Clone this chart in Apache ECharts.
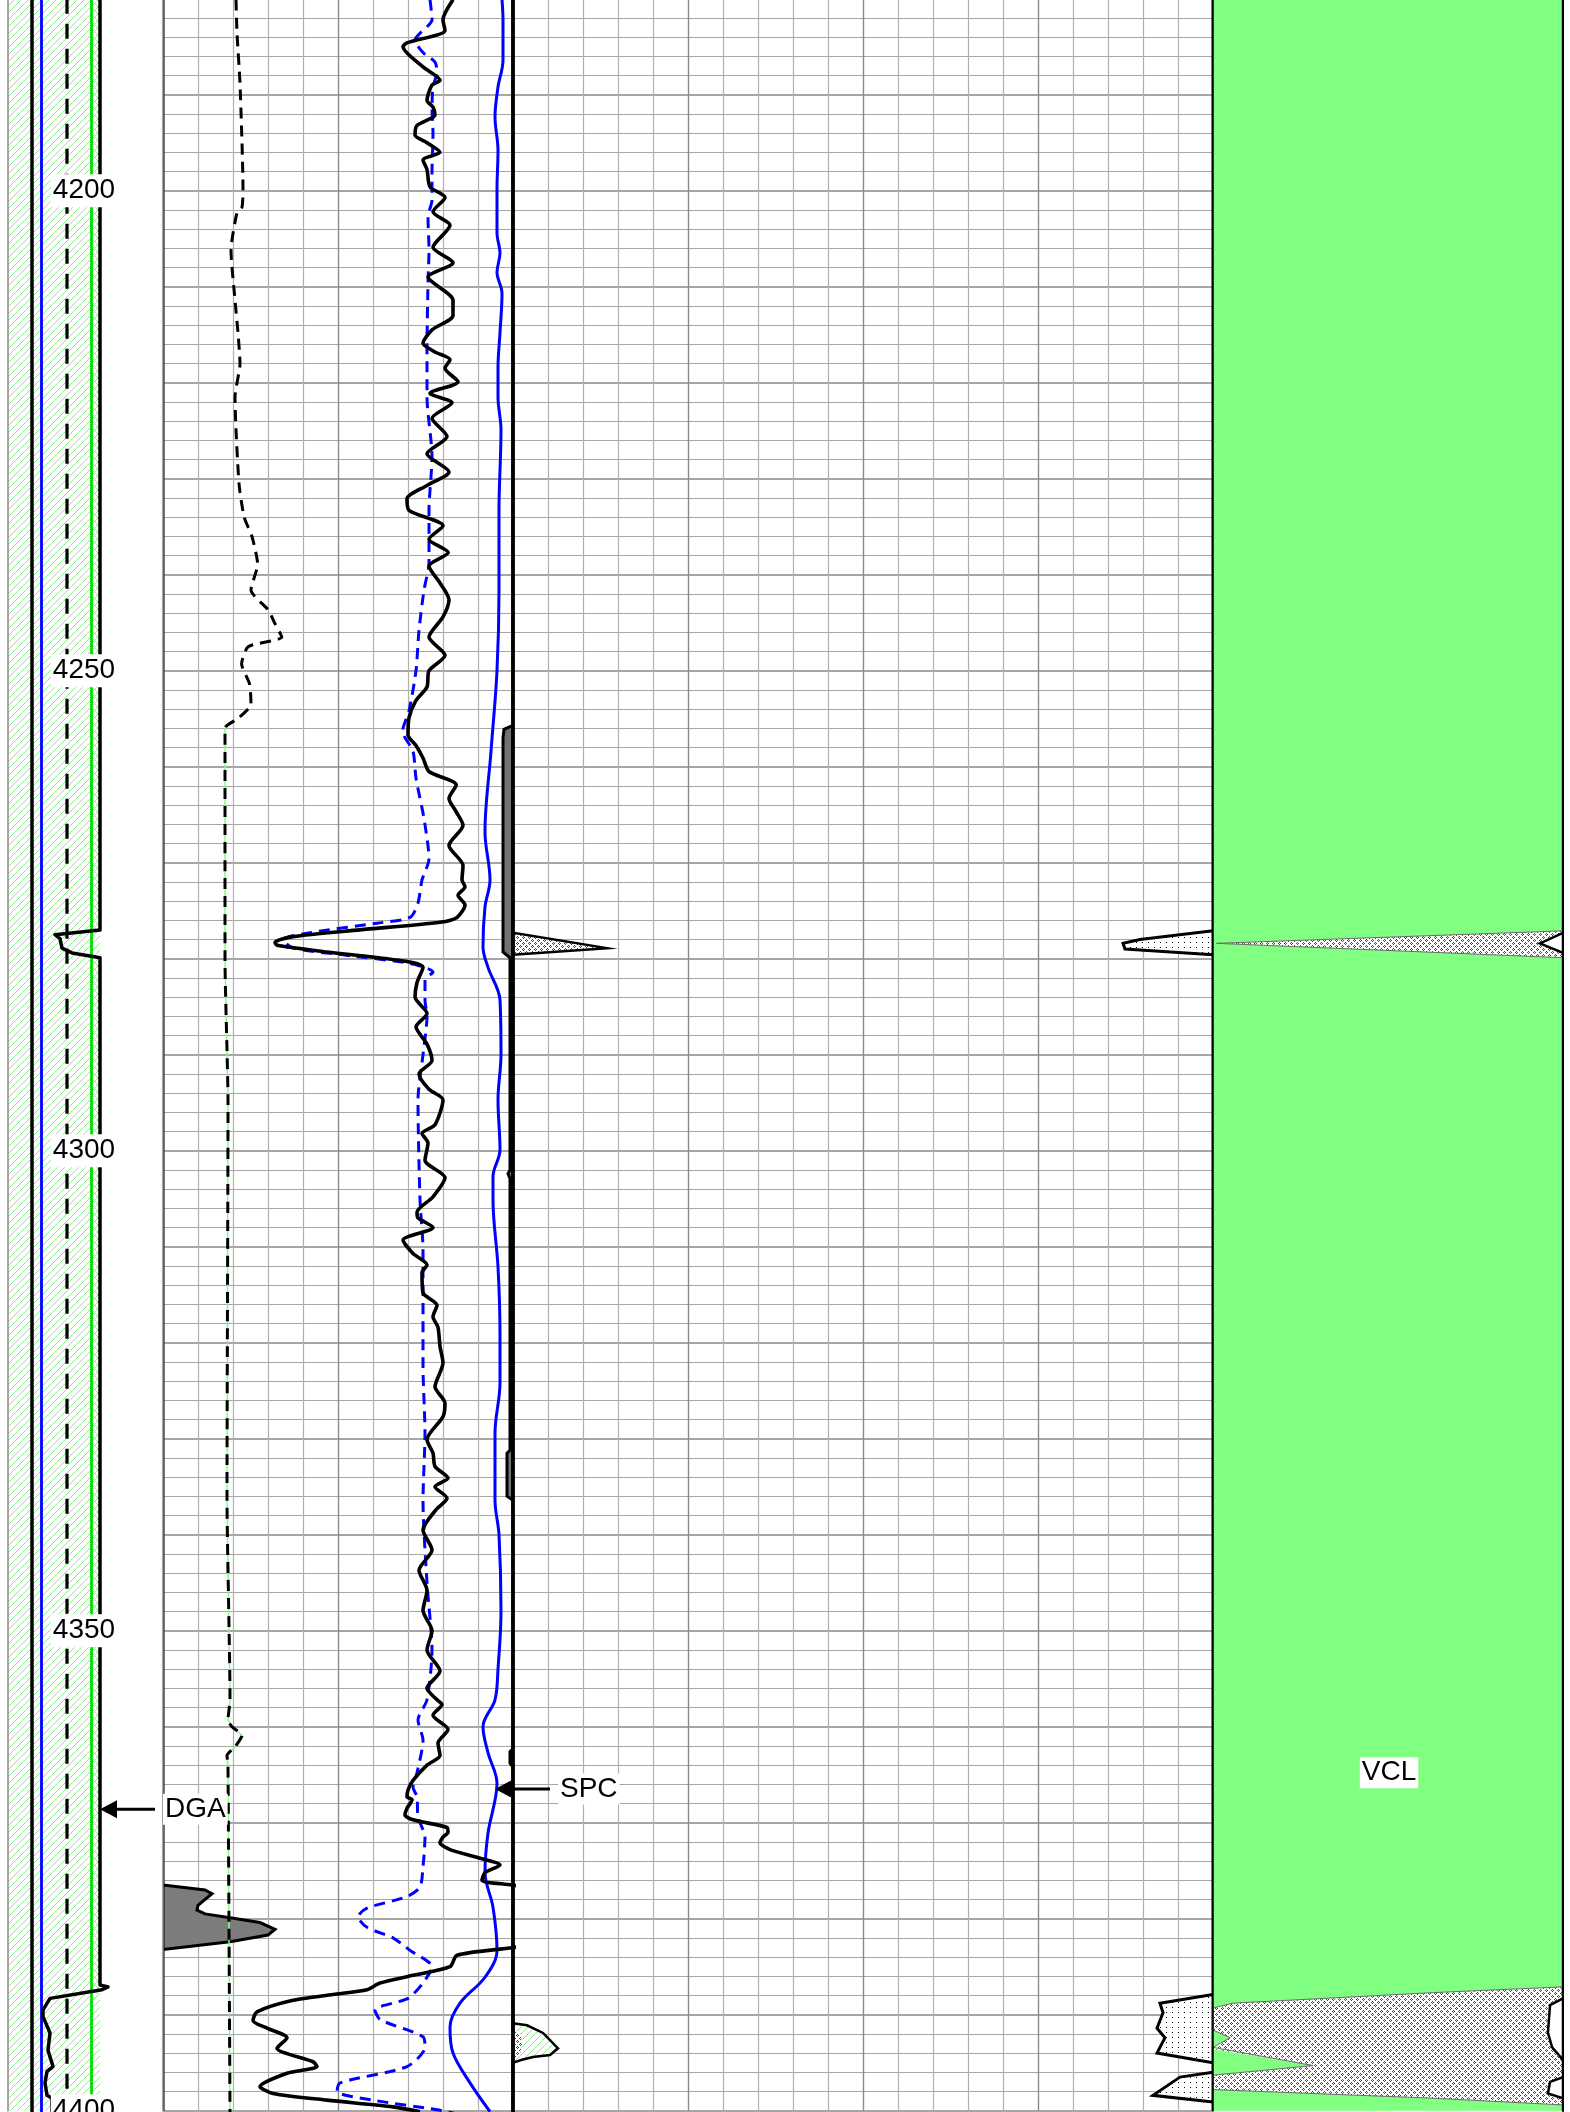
<!DOCTYPE html>
<html><head><meta charset="utf-8">
<script src="https://cdn.jsdelivr.net/npm/echarts@6/dist/echarts.min.js"></script>
<style>html,body{margin:0;padding:0;background:#fff}#c{width:1570px;height:2112px}</style>
</head><body><div id="c"></div>
<script>
// ---------------- depth axis ----------------
const DEPTH_MIN = 4180, DEPTH_MAX = 4400;
const DEPTH_LABELS = [4200, 4250, 4300, 4350, 4400];

// ---------------- track 1 (scale 0 - 15.5) ----------------
const T1_BLACK = 2.4, T1_BLUE = 3.35, T1_DASH = 5.9, T1_GREEN = 8.35, T1_HATCH_TO = 9.2;
const T1_DGA = [[4180,9.2],[4277.0,9.2],[4277.5,4.7],[4277.9,5.2],[4278.9,5.4],[4279.4,6.4],[4279.9,9.2],
 [4386.9,9.2],[4387.1,10.0],[4387.4,9.4],[4388.3,4.2],[4389.5,3.5],[4390.2,3.5],[4391.9,4.2],[4393.7,4.0],
 [4395.4,4.5],[4395.9,3.9],[4397.1,3.7],[4398.4,3.9],[4398.7,4.4],[4400.3,4.4]];

// ---------------- track 2 (scale 0 - 175) ----------------
const T2_GR = [[4180.1,145],[4182.2,140],[4183.3,141],[4184.6,122],[4185.0,120],[4187.1,130],[4188.5,138.5],[4189.0,134.5],
 [4190.6,132],[4191.3,135],[4192.1,136],[4193.2,127],[4194.2,126],[4195.0,132],[4196.0,138.5],[4196.8,130],[4197.8,132],
 [4199.6,133.5],[4200.7,141],[4202.2,135],[4203.6,143.5],[4205.9,135],[4207.5,145],[4209.0,132.5],[4211.4,145],[4213.0,145],
 [4214.5,134.5],[4215.9,130],[4216.8,136],[4217.6,143.5],[4218.5,141],[4219.9,147.5],[4221.1,133.5],
 [4222.1,144.5],[4223.7,134.5],[4225.6,142],[4227.4,132],[4229.3,143],[4230.7,132],[4232.1,122],[4233.3,123],[4234.9,140],
 [4236.3,133],[4237.7,142.6],[4239.1,133],[4240.9,138.6],[4242.6,143],[4244.4,140],[4246.5,133],[4248.4,141],[4250.0,133],
 [4251.7,132],[4253.1,126.5],[4254.9,123],[4256.7,122.5],[4257.8,126.5],[4259.1,130],[4260.5,133],[4261.9,146.6],[4263.3,143],
 [4264.7,146.6],[4266.1,150],[4268.2,143],[4270.3,150],
 [4271.8,149.5],[4272.5,151],[4273.4,147.5],[4274.4,151],[4275.7,147],[4276.2,138.5],[4277.0,98.5],[4277.7,65],[4278.3,56],
 [4278.6,57],[4279.3,82],[4280.3,122],[4280.9,130],[4282.5,127],[4284.0,126],
 [4285.7,132],[4287.1,126.5],[4288.9,132],[4290.6,134.5],[4292.0,128],[4293.6,133],
 [4294.7,140],[4297.3,136],[4298.2,129.5],[4299.2,132.5],[4301.0,131],[4302.8,141],[4304.8,135],[4306.4,127],[4307.0,127.5],
 [4308.0,135],[4309.3,120],[4310.7,125],[4311.9,132],[4312.7,129.5],[4314.8,130],[4316.1,137],[4317.3,135],[4318.4,137.5],
 [4320.4,138.5],[4322.1,140],[4324.6,136],[4326.3,141],[4327.7,140],[4330.1,132],[4331.5,135],[4332.9,136],[4334.1,142.5],
 [4335.0,136],[4336.2,142],
 [4337.4,136.5],[4339.5,130],[4341.6,134.5],[4343.7,128],[4345.8,132],[4347.9,130],[4350.0,134.5],[4352.0,132],[4354.2,138.5],
 [4356.0,132],
 [4357.2,137],[4357.7,139.5],[4358.8,135],[4360.3,142.5],[4361.7,137.5],[4363.0,138.5],[4364.0,132],[4365.6,125],[4366.6,122.5],
 [4367.3,122],[4367.6,124.5],[4368.5,122],[4369.2,121],[4369.7,125],[4370.5,142],[4371.0,142.5],[4371.5,140],[4372.1,138.5],
 [4372.8,143.5],[4373.7,158.5],[4374.4,168.5],[4375.2,161],[4376.0,159.5],[4376.5,174.5],[4377.5,200],[4382.0,200],[4383.0,175],
 [4383.8,147],[4385.0,143.5],[4385.9,125],[4386.7,108.5],[4387.4,102],[4387.9,85],[4388.5,65],[4389.7,47],[4390.6,45],
 [4391.4,52],[4392.4,62],[4393.5,57],[4394.9,75],[4395.4,77],[4396.1,62],[4397.5,48.5],[4398.2,55],[4398.9,82],[4399.6,115],
 [4400.1,128.5]];

const T2_BLUE_DASH = [[4180.1,133.5],[4182.2,134.5],[4183.6,128.5],[4184.3,126],[4185.6,130],[4186.6,136],[4187.7,137],
 [4189.2,135],[4191.3,134.5],[4194.0,135],[4198.2,134.5],[4201.0,134.5],[4202.7,132.5],[4206.2,133],[4209.6,132.5],[4216.6,132],
 [4221.5,132],[4227.7,134.5],[4233.3,133],[4238.8,133],[4241.6,130.5],[4245.8,128],[4250.0,126.5],[4254.2,123],[4256.3,119.8],
 [4258.4,125],[4261.2,126.5],[4265.4,130.5],[4269.6,133],
 [4271.8,129.5],[4274.2,127.5],[4275.7,123.5],[4276.3,107],[4277.3,73.5],[4278.0,60],[4278.9,65],[4279.6,90],[4280.5,123.5],
 [4281.4,135],[4282.2,131],[4284.3,131],[4286,132],[4290,130],[4294.7,127.5],[4305.1,128.5],[4310.3,130],[4322.5,130],
 [4329.4,131],[4336.4,130],[4345,132],[4352,134.5],
 [4357.2,132],[4359.3,127.5],[4361.4,130],[4364.8,127],[4366.3,125],[4367.3,127],[4369.4,127.5],[4371.5,131],[4374.6,130],
 [4376.7,128.5],[4377.7,122],[4378.9,102],[4379.8,97.5],[4380.9,102],[4382.0,115],[4383.3,123.5],[4385.0,134.5],[4386.7,130],
 [4388.3,122.5],[4389.5,106],[4390.5,108.5],[4392.3,130],[4393.4,131],[4395.4,122],[4397.1,88.5],[4398.0,87],[4398.9,105],
 [4399.9,137],[4400.4,148.5]];

const T2_BLUE = [[4180.1,169.5],[4182.2,170],[4186.4,170],[4189.2,167.5],[4192.3,166],[4195.8,167.5],[4199.9,167],[4204.4,167],
 [4206.5,168.5],[4208.5,167],[4210.7,169.5],[4214.8,168.5],[4218.4,167.5],[4221.5,167.5],[4224.9,169],[4233.3,168],[4241.6,168],
 [4250.0,167],[4258.4,164],[4266.8,161],[4271.8,163.5],[4274.6,161],[4278.8,160],[4280.9,162.5],[4284.3,168.5],[4290,169],
 [4294.7,167.5],[4299.9,168.5],[4302.7,165],[4305.1,165],[4312.1,167.5],[4319.0,168.5],[4324.2,168.5],[4329.4,166],[4336.4,166],
 [4340,168],[4348,169],[4354,167.5],[4357.2,166],[4360.0,160],[4362.7,162.5],[4365.9,167],[4371.1,162.5],[4375.2,161],
 [4378.8,165],[4383.3,167],[4386.1,161],[4388.8,148.5],[4391.3,143.5],[4394.0,145],[4397.1,153.5],[4400.1,163.5]];

const T2_BLACK_DASH = [[4180.1,36.5],[4183.6,37],[4188.8,38.5],[4199.9,40],[4201.7,39.5],[4202.3,37],[4206.2,34],[4211.4,36],
 [4214.8,37.5],[4218.0,38.5],[4221.5,36],[4230.5,38],[4234.0,40.6],[4236.1,44.6],[4238.9,47.3],[4241.6,44],[4243.7,52.7],
 [4245.1,56],[4246.5,59.4],[4247.5,42.6],[4249.3,39.3],[4251.4,43.3],[4253.5,44],[4254.9,38],[4256.0,31],[4280,31],[4295,32.5],
 [4336,32],[4357.2,33.5],[4359.3,32.5],[4360.0,34.5],[4360.9,39.5],[4362.1,36],[4363.0,32],[4364.2,32.5],[4400.3,33.5]];
const T2_GREEN_FROM = 4256.0;

const T2_DARK = [[4376.5,0],[4377.0,21],[4377.4,24.5],[4378.6,17.5],[4379.1,17],[4379.5,21],[4379.9,33.5],[4380.4,48.5],
 [4381.1,56],[4381.7,52.5],[4382.4,33.5],[4383.2,0]];

const T2_SP = [[4180,175],[4255.7,175],[4256.1,170.5],[4257,170],[4279.3,170],[4279.9,173.5],[4302.0,173.5],[4302.4,172.5],
 [4302.9,173.5],[4331.2,173.5],[4331.5,172],[4336.0,172],[4336.4,175],[4362.3,175],[4362.6,173.5],[4363.8,173.5],[4364.2,175],
 [4400.3,175]];

// ---------------- track 3 (scale 0 - 350) ----------------
const T3_SPIKE = [[4277.3,0],[4278.9,47],[4279.6,0]];
const T3_BUMP = [[4390.9,0],[4391.1,7],[4391.9,15],[4393.5,22.5],[4394.2,18.5],[4394.4,10],[4394.7,4.5],[4395.0,0]];
const T3_BUMP_RED = [[4391.5,0],[4392.0,4],[4393.3,4.5],[4394.3,3],[4394.6,0]];
const T3_RIGHT = [[4180,350],[4277.1,350],[4278.0,313.5],[4278.4,305],[4279.0,306],[4279.1,313.5],[4279.6,350],[4387.9,350],
 [4388.8,323.5],[4389.8,325],[4391.4,322],[4392.4,326],[4394.0,322],[4395.0,350],[4396.0,350],[4396.5,333.5],[4398.4,320],
 [4399.1,350],[4400.3,350]];

// ---------------- track 4 (scale 0 - 1) ----------------
const T4_VCL = [[4180,1],[4277.1,1],[4278.4,0.01],[4279.9,1],[4387.1,1],[4387.7,0.63],[4388.8,0.057],[4389.3,0],[4391.6,0],
 [4392.4,0.049],[4393.4,0],[4393.6,0],[4395.3,0.286],[4396.3,0],[4397.8,0],[4398.7,0.63],[4399.4,1],[4400.3,1]];
const T4_PHI = [[4180,1],[4277.3,1],[4278.4,0.934],[4279.4,1],[4388.3,1],[4389.0,0.963],[4391.9,0.957],[4393.4,0.969],
 [4394.7,1],[4396.5,1],[4397.0,0.963],[4398.2,0.957],[4398.7,1],[4400.3,1]];

// ---------------- annotations ----------------
const ANNOT_DGA = {text:'DGA', value:9.2, depth:4368.6};
const ANNOT_SPC = {text:'SPC', value:166, depth:4366.5};
const ANNOT_VCL = {text:'VCL', value:0.503, depth:4364.8};

// ================= rendering =================
const FONT = '"Liberation Sans", Arial, sans-serif';
function pat(w,h,draw){const c=document.createElement('canvas');c.width=w;c.height=h;const g=c.getContext('2d');draw(g,w,h);return {image:c,repeat:'repeat'};}
const HATCH = pat(7,7,(g,w,h)=>{g.fillStyle='#fff';g.fillRect(0,0,w,h);g.strokeStyle='#86ec86';g.lineWidth=1;g.beginPath();
  g.moveTo(-1,h+1);g.lineTo(w+1,-1);g.moveTo(-1,1);g.lineTo(1,-1);g.moveTo(w-1,h+1);g.lineTo(w+1,h-1);g.stroke();});
const XHATCH = pat(7,7,(g,w,h)=>{g.strokeStyle='#86ec86';g.lineWidth=1;g.beginPath();
  g.moveTo(-1,-1);g.lineTo(w+1,h+1);g.moveTo(w-1,-1);g.lineTo(w+1,1);g.moveTo(-1,h-1);g.lineTo(1,h+1);g.stroke();});
function dotPat(col){return pat(6,6,(g,w,h)=>{g.fillStyle='#fff';g.fillRect(0,0,w,h);g.fillStyle=col;
  [[1,0],[0,1],[2,1],[1,2],[4,3],[3,4],[5,4],[4,5]].forEach(p=>g.fillRect(p[0],p[1],1,1));});}
const BLUEDOTS = dotPat('#3030ff');
const REDDOTS = dotPat('#e00000');
const BLACKDOTS = pat(6,5,(g,w,h)=>{g.fillStyle='#fff';g.fillRect(0,0,w,h);g.fillStyle='#000';g.fillRect(2,2,1,1);});

function edge(v){return [[DEPTH_MIN,v],[DEPTH_MAX+1,v]];}
function fill(gi, left, right, color, stroke, lw, z){
  return {type:'custom', coordinateSystem:'cartesian2d', xAxisIndex:gi, yAxisIndex:gi, clip:true, silent:true, z:z||1,
    data:[[left[0][1], left[0][0]]],
    renderItem:(params, api)=>{
      const pts = left.map(p=>api.coord([p[1],p[0]])).concat(right.slice().reverse().map(p=>api.coord([p[1],p[0]])));
      return {type:'polygon', shape:{points:pts}, style:{fill:color, stroke:stroke||null, lineWidth:lw||0}};
    }};
}
function line(gi, pts, color, width, type, z, smooth){
  return {type:'line', xAxisIndex:gi, yAxisIndex:gi, data:pts.map(p=>[p[1],p[0]]), showSymbol:false, symbol:'none',
    silent:true, clip:true, z:z||3, smooth:smooth||false,
    lineStyle:{color:color, width:width, type:type||'solid', cap:'butt', join:'round'}};
}
function vline(gi, v, color, width, type, z){ return line(gi, edge(v), color, width, type, z); }
function annot(gi, a, arrow){
  return {type:'custom', coordinateSystem:'cartesian2d', xAxisIndex:gi, yAxisIndex:gi, clip:false, silent:true, z:30,
    data:[[a.value, a.depth]],
    renderItem:(params, api)=>{
      const p = api.coord([a.value, a.depth]);
      const tstyle = {text:a.text, font:'28px '+FONT, fill:'#000', backgroundColor:'#fff', padding:[2,2,1,2], verticalAlign:'middle'};
      if(!arrow){ return {type:'text', style:Object.assign(tstyle,{x:p[0], y:p[1], align:'center'})}; }
      return {type:'group', children:[
        {type:'line', shape:{x1:p[0]+12, y1:p[1], x2:p[0]+55, y2:p[1]}, style:{stroke:'#000', lineWidth:3}},
        {type:'polygon', shape:{points:[[p[0],p[1]],[p[0]+17,p[1]-9],[p[0]+17,p[1]+9]]}, style:{fill:'#000'}},
        {type:'text', style:Object.assign(tstyle,{x:p[0]+63, y:p[1], align:'left'})}
      ]};
    }};
}

const GRIDS = [[8,155],[163,350],[513,700],[1213,350]];
const XR = [[0,15.5],[0,175],[0,350],[0,1]];
const grid = GRIDS.map(g=>({left:g[0], width:g[1], top:-1.3, height:2112, containLabel:false, outerBoundsMode:'none'}));
const hasGrid = [false,true,true,false];
const xAxis = XR.map((r,i)=>({gridIndex:i, type:'value', min:r[0], max:r[1], position:'top',
  interval: i===1||i===2 ? 87.5 : undefined,
  axisLine:{show:false}, axisTick:{show:false}, axisLabel:{show:false},
  splitLine:{show:hasGrid[i], lineStyle:{color:'#8a8a8a', width:1.4}},
  minorTick:{show:false, splitNumber:5},
  minorSplitLine:{show:hasGrid[i], lineStyle:{color:'#b0b0b0', width:1.2}}}));
const yAxis = XR.map((r,i)=>({gridIndex:i, type:'value', min:DEPTH_MIN, max:DEPTH_MAX, inverse:true, interval:10,
  z: i===0 ? 20 : 0,
  axisLine:{show:false}, axisTick:{show:false},
  axisLabel: i===0 ? {show:true, inside:true, customValues:DEPTH_LABELS, margin:76, align:'center', verticalAlign:'middle',
      fontSize:28, fontFamily:FONT, color:'#000', backgroundColor:'#fff', padding:[3,2,2,2], formatter:(v)=>String(v)} : {show:false},
  splitLine:{show:hasGrid[i], lineStyle:{color:'#888888', width:1.6}},
  minorTick:{show:false, splitNumber:5},
  minorSplitLine:{show:hasGrid[i], lineStyle:{color:'#a6a6a6', width:1.2}}}));

const series = [];
// Track 1
series.push(fill(0, edge(0), edge(T1_HATCH_TO), HATCH));
series.push(fill(0, edge(T1_GREEN), T1_DGA.map(p=>[p[0], Math.max(p[1], T1_GREEN)]), XHATCH));
series.push(vline(0, 0, '#8a8a8a', 1.5));
series.push(vline(0, 15.5, '#8a8a8a', 1.5));
series.push(vline(0, T1_BLACK, '#000', 3.5));
series.push(vline(0, T1_BLUE, '#0000ff', 2.8));
series.push(vline(0, T1_DASH, '#000', 3.2, [15,10]));
series.push(vline(0, T1_GREEN, '#00e000', 2.8));
series.push(line(0, T1_DGA, '#000', 3.5));
// Track 2
series.push(fill(1, edge(0), T2_DARK, '#7c7c7c', '#000', 3));
series.push(fill(1, T2_SP, edge(175), '#727272', '#000', 3));
series.push(line(1, T2_BLACK_DASH.filter(p=>p[0]>=T2_GREEN_FROM), '#80ff80', 1.5, 'solid', 2));
series.push(line(1, T2_BLACK_DASH, '#000', 3, [11,7], 3, 0.2));
series.push(line(1, T2_BLUE_DASH, '#0000ff', 3, [11,7], 3, 0.25));
series.push(line(1, T2_BLUE, '#0000ff', 3, 'solid', 3, 0.35));
series.push(line(1, T2_GR, '#000', 3.6, 'solid', 4, 0.25));
// Track 3
series.push(fill(2, [[4277.3,0],[4279.6,0]], T3_SPIKE, REDDOTS, '#000', 2.5));
series.push(fill(2, [[4390.9,0],[4395.0,0]], T3_BUMP, HATCH, '#000', 2.5));
series.push(fill(2, [[4391.5,0],[4394.6,0]], T3_BUMP_RED, REDDOTS));
series.push(fill(2, T3_RIGHT, edge(350), BLACKDOTS, '#000', 3));
series.push(vline(2, 0, '#000', 3.8, 'solid', 4));
// Track 4
series.push(fill(3, T4_VCL, edge(1), BLUEDOTS));
series.push(fill(3, edge(0), T4_VCL, '#80ff80'));
series.push(line(3, T4_VCL, '#6a6a6a', 1, 'solid', 2));
series.push(fill(3, T4_PHI, edge(1), '#ffffff', '#000', 2.5));
series.push(vline(3, 0, '#000', 1.5, 'solid', 4));
series.push(vline(3, 1, '#000', 2, 'solid', 4));
// annotations
series.push(annot(0, ANNOT_DGA, true));
series.push(annot(1, ANNOT_SPC, true));
series.push(annot(3, ANNOT_VCL, false));

const chart = echarts.init(document.getElementById('c'), null, {renderer:'canvas', width:1570, height:2112});
chart.setOption({animation:false, backgroundColor:'#fff', textStyle:{fontFamily:FONT}, grid, xAxis, yAxis, series});
</script></body></html>
